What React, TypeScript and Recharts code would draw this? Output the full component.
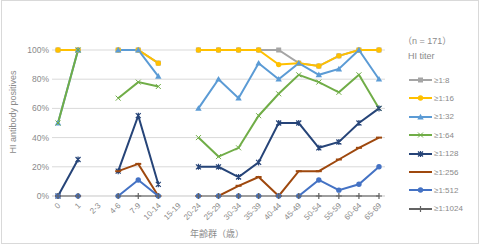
import { LineChart, Line, XAxis, YAxis, CartesianGrid, Label } from "recharts";

const ages = ["0", "1", "2-3", "4-6", "7-9", "10-14", "15-19", "20-24", "25-29", "30-34", "35-39", "40-44", "45-49", "50-54", "55-59", "60-64", "65-69"];

const titer8 = [100, 100, null, 100, 100, 91, null, 100, 100, 100, 100, 100, 91, 89, 96, 100, 100];
const titer16 = [100, 100, null, 100, 100, 91, null, 100, 100, 100, 100, 90, 91, 89, 96, 100, 100];
const titer32 = [50, 100, null, 100, 100, 82, null, 60, 80, 67, 91, 80, 91, 83, 87, 100, 80];
const titer64 = [50, 100, null, 67, 78, 75, null, 40, 27, 33, 55, 70, 83, 78, 71, 83, 60];
const titer128 = [0, 25, null, 17, 55, 8, null, 20, 20, 13, 23, 50, 50, 33, 37, 50, 60];
const titer256 = [0, 0, null, 17, 22, 0, null, 0, 0, 7, 13, 0, 17, 17, 25, 33, 40];
const titer512 = [0, 0, null, 0, 11, 0, null, 0, 0, 0, 0, 0, 0, 11, 4, 8, 20];
const titer1024 = [0, 0, null, 0, 0, 0, null, 0, 0, 0, 0, 0, 0, 0, 0, 0, 0];

const yTicks = [0, 10, 20, 30, 40, 50, 60, 70, 80, 90, 100];

const series = [
  { key: "t8", name: "≥1:8", values: titer8, color: "#A5A5A5", marker: "square" },
  { key: "t16", name: "≥1:16", values: titer16, color: "#FFC000", marker: "circle" },
  { key: "t32", name: "≥1:32", values: titer32, color: "#5B9BD5", marker: "triangle" },
  { key: "t64", name: "≥1:64", values: titer64, color: "#70AD47", marker: "x" },
  { key: "t128", name: "≥1:128", values: titer128, color: "#264478", marker: "star" },
  { key: "t256", name: "≥1:256", values: titer256, color: "#9E480E", marker: "dash" },
  { key: "t512", name: "≥1:512", values: titer512, color: "#4472C4", marker: "circle" },
  { key: "t1024", name: "≥1:1024", values: titer1024, color: "#636363", marker: "plus" },
];

const data = ages.map((age, i) => {
  const row: Record<string, any> = { age };
  series.forEach((s) => (row[s.key] = s.values[i]));
  return row;
});

const FONT = '"Liberation Sans", Arial, "Noto Sans CJK JP", sans-serif';
const TEXT = "#8a8a8a";

function Marker({ type, color, cx, cy }: { type: string; color: string; cx: number; cy: number }) {
  switch (type) {
    case "square":
      return <rect x={cx - 2.5} y={cy - 2.5} width={5} height={5} fill={color} />;
    case "circle":
      return <circle cx={cx} cy={cy} r={2.7} fill={color} />;
    case "triangle":
      return <path d={`M${cx},${cy - 3.2} L${cx + 3.2},${cy + 2.4} L${cx - 3.2},${cy + 2.4} Z`} fill={color} />;
    case "x":
      return (
        <path d={`M${cx - 2.5},${cy - 2.5} L${cx + 2.5},${cy + 2.5} M${cx + 2.5},${cy - 2.5} L${cx - 2.5},${cy + 2.5}`} stroke={color} strokeWidth={1} />
      );
    case "star":
      return (
        <path
          d={`M${cx - 2.5},${cy - 2.5} L${cx + 2.5},${cy + 2.5} M${cx + 2.5},${cy - 2.5} L${cx - 2.5},${cy + 2.5} M${cx},${cy - 3} L${cx},${cy + 3}`}
          stroke={color}
          strokeWidth={1.2}
        />
      );
    case "dash":
      return <path d={`M${cx - 3},${cy} L${cx + 3},${cy}`} stroke={color} strokeWidth={2} />;
    case "plus":
      return <path d={`M${cx - 3},${cy} L${cx + 3},${cy} M${cx},${cy - 3} L${cx},${cy + 3}`} stroke={color} strokeWidth={1.2} />;
    default:
      return null;
  }
}

function makeDot(type: string, color: string) {
  return (props: any) => {
    const { cx, cy, value, index } = props;
    if (value == null || cy == null || isNaN(cy)) return <g key={index} />;
    return (
      <g key={index}>
        <Marker type={type} color={color} cx={cx} cy={cy} />
      </g>
    );
  };
}

function AgeTick(props: any) {
  const { x, y, payload } = props;
  return (
    <text
      transform={`translate(${x + 3},${y + 2}) rotate(-45)`}
      textAnchor="end"
      fontSize={8}
      fill={TEXT}
      fontFamily={FONT}
    >
      {payload.value}
    </text>
  );
}

export default function App() {
  return (
    <div style={{ position: "absolute", left: 0, top: 0, width: 479, height: 245, background: "#fff" }}>
      <div
        style={{
          position: "absolute",
          left: 1,
          top: 0,
          width: 476,
          height: 242,
          border: "1px solid #d9d9d9",
        }}
      />
      <LineChart width={479} height={245} data={data} margin={{ top: 50, right: 94, bottom: 19, left: 0 }}>
        <CartesianGrid vertical={false} stroke="#d9d9d9" strokeWidth={1} />
        <XAxis
          dataKey="age"
          interval={0}
          tick={<AgeTick />}
          tickLine={false}
          axisLine={{ stroke: "#d9d9d9" }}
          padding={{ left: 6, right: 6 }}
          height={30}
        >
          <Label
            content={() => (
              <text x={217} y={237} textAnchor="middle" fontSize={9} fill={TEXT} fontFamily={FONT}>
                年齢群（歳）
              </text>
            )}
          />
        </XAxis>
        <YAxis
          domain={[0, 100]}
          ticks={yTicks}
          tickFormatter={(v: number) => `${v}%`}
          tick={{ fontSize: 8.5, fill: TEXT, fontFamily: FONT }}
          tickLine={false}
          tickSize={0}
          tickMargin={3}
          axisLine={false}
          width={52}
        >
          <Label
            content={() => (
              <text
                transform="translate(16,112) rotate(-90)"
                textAnchor="middle"
                fontSize={9}
                fill={TEXT}
                fontFamily={FONT}
              >
                HI antibody positives
              </text>
            )}
          />
        </YAxis>
        {series.map((s) => (
          <Line
            key={s.key}
            type="linear"
            dataKey={s.key}
            name={s.name}
            stroke={s.color}
            strokeWidth={2}
            dot={makeDot(s.marker, s.color)}
            activeDot={false}
            isAnimationActive={false}
          />
        ))}
      </LineChart>
      <div
        style={{
          position: "absolute",
          left: 403,
          top: 34,
          fontFamily: FONT,
          fontSize: 9,
          color: TEXT,
          whiteSpace: "nowrap",
        }}
      >
        （n = 171）
      </div>
      <div
        style={{
          position: "absolute",
          left: 408,
          top: 51,
          fontFamily: FONT,
          fontSize: 9,
          color: TEXT,
          whiteSpace: "nowrap",
        }}
      >
        HI titer
      </div>
      {series.map((s, i) => (
        <div
          key={s.key}
          style={{
            position: "absolute",
            left: 408,
            top: 74 + i * 18.4,
            height: 12,
            display: "flex",
            alignItems: "center",
            fontFamily: FONT,
            fontSize: 8,
            color: TEXT,
            whiteSpace: "nowrap",
          }}
        >
          <svg width={25} height={12} style={{ display: "block" }}>
            <line x1={1} y1={6} x2={24} y2={6} stroke={s.color} strokeWidth={2} />
            <Marker type={s.marker} color={s.color} cx={12.5} cy={6} />
          </svg>
          <span style={{ marginLeft: 1 }}>{s.name}</span>
        </div>
      ))}
    </div>
  );
}
